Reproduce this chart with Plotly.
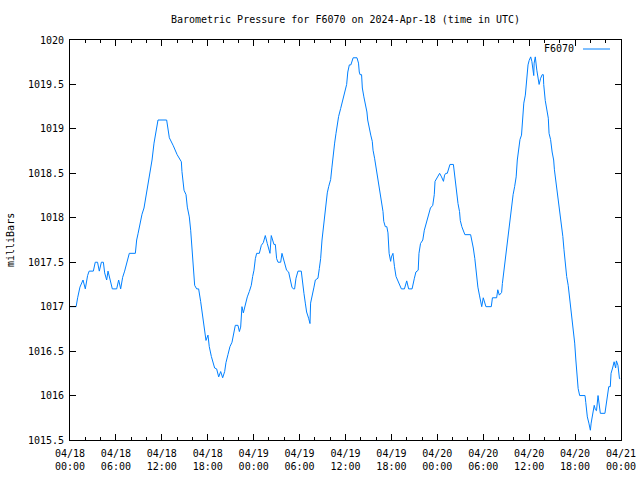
import plotly.graph_objects as go
import pandas as pd

title_text = "Barometric Pressure for F6070 on 2024-Apr-18 (time in UTC)"
series_name = "F6070"
y_label = "milliBars"
start_time = "2024-04-18 00:00"
end_time = "2024-04-21 00:00"

hours = [
    0.0, 0.8, 1.0, 1.3, 1.7, 2.0, 2.3, 2.5, 3.05, 3.3, 3.6, 3.83, 4.1, 4.36, 4.53, 4.79, 4.97, 5.23, 5.53, 6.1,
    6.36, 6.62, 6.88, 7.14, 7.49, 7.75, 8.54, 8.71, 8.89, 9.15, 9.41, 9.67, 9.93, 10.19, 10.45, 10.72, 10.98,
    11.24, 11.5, 12.63, 12.8, 12.98, 13.5, 14.0, 14.55, 14.63, 14.9, 15.16, 15.33, 15.59, 15.77, 15.94, 16.12,
    16.29, 16.55, 16.81, 17.07, 17.25, 17.42, 17.6, 17.77, 18.03, 18.2, 18.47, 18.64, 18.9, 19.16, 19.43, 19.69,
    19.95, 20.21, 20.38, 20.64, 20.9, 21.17, 21.43, 21.6, 21.95, 22.13, 22.3, 22.47, 22.65, 22.99, 23.17, 23.43,
    23.69, 23.87, 24.04, 24.22, 24.39, 24.74, 25.0, 25.26, 25.52, 25.78, 25.96, 26.13, 26.3, 26.48, 26.65, 26.83,
    27.0, 27.18, 27.53, 27.7, 27.87, 28.05, 28.3, 28.57, 28.75, 29.0, 29.18, 29.35, 29.53, 29.79, 30.22, 30.4,
    30.57, 30.75, 30.92, 31.18, 31.36, 31.44, 31.62, 31.88, 32.06, 32.4, 32.58, 32.75, 32.93, 33.1, 33.27, 33.45,
    33.62, 33.8, 34.06, 34.23, 34.41, 34.58, 34.76, 34.93, 35.1, 35.37, 35.63, 35.89, 36.15, 36.3, 36.5, 36.7,
    36.85, 37.0, 37.5, 37.7, 37.8, 37.9, 38.1, 38.2, 38.4, 38.6, 38.8, 38.9, 39.1, 39.3, 39.5, 39.6, 39.8, 40.0,
    40.2, 40.3, 40.5, 40.7, 40.9, 41.0, 41.2, 41.4, 41.55, 41.7, 41.9, 42.0, 42.2, 42.4, 42.6, 42.8, 43.0, 43.3,
    43.7, 44.0, 44.25, 44.7, 45.0, 45.2, 45.5, 45.6, 45.8, 46.1, 46.3, 46.5, 46.7, 46.9, 47.1, 47.4, 47.6, 47.7,
    48.0, 48.3, 48.55, 48.8, 48.95, 49.1, 49.3, 49.5, 49.65, 50.1, 50.3, 50.4, 50.6, 50.7, 50.9, 51.0, 51.2, 51.4,
    51.6, 52.35, 52.5, 52.7, 52.9, 53.0, 53.1, 53.3, 53.5, 53.65, 53.8, 54.0, 54.2, 54.35, 55.05, 55.2, 55.75,
    55.9, 56.1, 56.4, 56.5, 56.7, 56.9, 57.1, 57.2, 57.4, 57.6, 57.75, 57.9, 58.1, 58.3, 58.45, 58.6, 58.8, 59.0,
    59.1, 59.3, 59.5, 59.7, 59.85, 60.0, 60.2, 60.35, 60.5, 60.6, 60.65, 60.8, 61.0, 61.2, 61.3, 61.5, 61.7,
    61.85, 61.9, 62.1, 62.3, 62.5, 62.6, 62.8, 63.0, 63.2, 63.3, 63.5, 63.7, 63.9, 64.0, 64.2, 64.4, 64.55, 64.7,
    64.9, 65.1, 65.25, 65.4, 65.6, 65.8, 65.95, 66.1, 66.3, 66.4, 66.6, 67.3, 67.4, 67.6, 67.8, 68.0, 68.1, 68.3,
    68.5, 68.65, 68.8, 69.0, 69.15, 69.3, 69.9, 70.0, 70.2, 70.4, 70.6, 70.7, 70.9, 71.1, 71.3, 71.4, 71.6, 71.8,
    71.9,
]

pressure = [
    1017.0, 1017.0, 1017.1, 1017.22, 1017.3, 1017.2, 1017.35, 1017.4, 1017.4, 1017.5, 1017.5, 1017.4, 1017.5,
    1017.5, 1017.38, 1017.3, 1017.4, 1017.29, 1017.2, 1017.2, 1017.3, 1017.2, 1017.33, 1017.4, 1017.51, 1017.6,
    1017.6, 1017.75, 1017.82, 1017.94, 1018.04, 1018.11, 1018.24, 1018.35, 1018.52, 1018.65, 1018.84, 1018.97,
    1019.1, 1019.1, 1019.02, 1018.9, 1018.81, 1018.71, 1018.63, 1018.52, 1018.31, 1018.26, 1018.12, 1018.01,
    1017.86, 1017.64, 1017.36, 1017.24, 1017.2, 1017.2, 1017.06, 1016.94, 1016.83, 1016.74, 1016.62, 1016.68,
    1016.55, 1016.44, 1016.38, 1016.31, 1016.3, 1016.21, 1016.27, 1016.2, 1016.27, 1016.37, 1016.46, 1016.55,
    1016.6, 1016.7, 1016.79, 1016.79, 1016.72, 1016.77, 1017.0, 1016.93, 1017.06, 1017.11, 1017.17, 1017.24,
    1017.34, 1017.41, 1017.54, 1017.6, 1017.6, 1017.69, 1017.72, 1017.8, 1017.71, 1017.64, 1017.6, 1017.8,
    1017.75, 1017.7, 1017.7, 1017.54, 1017.5, 1017.5, 1017.6, 1017.54, 1017.47, 1017.41, 1017.39, 1017.32,
    1017.22, 1017.2, 1017.2, 1017.32, 1017.4, 1017.4, 1017.24, 1017.15, 1017.04, 1016.94, 1016.87, 1016.81,
    1017.04, 1017.1, 1017.22, 1017.3, 1017.32, 1017.43, 1017.54, 1017.75, 1017.9, 1018.05, 1018.16, 1018.28,
    1018.35, 1018.43, 1018.57, 1018.73, 1018.84, 1018.95, 1019.04, 1019.14, 1019.23, 1019.32, 1019.42, 1019.5,
    1019.64, 1019.72, 1019.72, 1019.77, 1019.8, 1019.8, 1019.74, 1019.64, 1019.61, 1019.61, 1019.46, 1019.36,
    1019.27, 1019.19, 1019.1, 1019.0, 1018.93, 1018.86, 1018.76, 1018.67, 1018.56, 1018.44, 1018.35, 1018.24,
    1018.16, 1018.07, 1017.96, 1017.9, 1017.9, 1017.83, 1017.6, 1017.51, 1017.56, 1017.6, 1017.45, 1017.34,
    1017.3, 1017.26, 1017.2, 1017.2, 1017.29, 1017.2, 1017.2, 1017.32, 1017.39, 1017.41, 1017.6, 1017.71,
    1017.75, 1017.86, 1017.92, 1018.0, 1018.05, 1018.11, 1018.14, 1018.26, 1018.41, 1018.46, 1018.5, 1018.46,
    1018.41, 1018.48, 1018.5, 1018.5, 1018.56, 1018.6, 1018.6, 1018.46, 1018.35, 1018.26, 1018.16, 1018.07,
    1017.97, 1017.9, 1017.84, 1017.81, 1017.81, 1017.75, 1017.66, 1017.54, 1017.45, 1017.34, 1017.22, 1017.13,
    1017.04, 1017.0, 1017.1, 1017.04, 1017.0, 1017.0, 1017.1, 1017.1, 1017.19, 1017.13, 1017.16, 1017.26,
    1017.41, 1017.56, 1017.66, 1017.75, 1017.9, 1018.05, 1018.14, 1018.26, 1018.35, 1018.46, 1018.65, 1018.76,
    1018.88, 1018.93, 1019.06, 1019.29, 1019.38, 1019.61, 1019.72, 1019.77, 1019.81, 1019.76, 1019.66, 1019.6,
    1019.74, 1019.81, 1019.66, 1019.57, 1019.5, 1019.57, 1019.61, 1019.61, 1019.5, 1019.32, 1019.23, 1019.12,
    1018.95, 1018.88, 1018.74, 1018.65, 1018.54, 1018.41, 1018.28, 1018.16, 1018.05, 1017.94, 1017.79, 1017.64,
    1017.49, 1017.34, 1017.24, 1017.13, 1017.04, 1016.89, 1016.72, 1016.59, 1016.4, 1016.21, 1016.08, 1016.0,
    1016.0, 1015.92, 1015.76, 1015.69, 1015.61, 1015.69, 1015.8, 1015.89, 1015.84, 1015.83, 1016.0, 1015.9,
    1015.8, 1015.8, 1015.87, 1015.95, 1016.1, 1016.1, 1016.25, 1016.31, 1016.38, 1016.31, 1016.39, 1016.34,
    1016.19, 1016.19,
]

y_min, y_max, y_step = 1015.5, 1020.0, 0.5

times = pd.Timestamp(start_time) + pd.to_timedelta(hours, unit="h")

FONT = "DejaVu Sans Mono"
FS = 10
LINE_COLOR = "#0080ff"

fig = go.Figure()
fig.add_trace(go.Scatter(x=times, y=pressure, mode="lines", name=series_name,
                         line=dict(color=LINE_COLOR, width=1), showlegend=False,
                         hoverinfo="skip"))

W, H = 640, 480
PL, PR, PT, PB = 70, 621, 40, 440  # plot area in pixels
pw, ph = PR - PL, PB - PT

def px_x(p):
    return (p - PL) / pw

def px_y(p):
    return (PB - p) / ph

fig.update_layout(
    width=W, height=H,
    margin=dict(l=PL, r=W - PR, t=PT, b=H - PB, autoexpand=False),
    paper_bgcolor="white", plot_bgcolor="white",
    font=dict(family=FONT, size=FS, color="black"),
    hovermode=False,
    title=dict(text=title_text, x=px_x(345.5), xref="paper", xanchor="center",
               yref="container", y=1 - 19 / H, yanchor="middle", automargin=False,
               font=dict(family=FONT, size=FS)),
    xaxis=dict(
        type="date",
        range=[start_time, end_time],
        dtick=6 * 3600 * 1000,
        tick0=start_time,
        tickformat="%m/%d<br>%H:%M",
        ticks="inside", ticklen=6, tickcolor="black", tickwidth=1,
        ticklabelstandoff=4,
        minor=dict(dtick=2 * 3600 * 1000, ticks="inside", ticklen=3, tickcolor="black"),
        showline=True, linecolor="black", linewidth=1, mirror="ticks",
        showgrid=False, zeroline=False, automargin=False,
        tickfont=dict(family=FONT, size=FS),
    ),
    yaxis=dict(
        range=[y_min, y_max],
        dtick=y_step,
        tick0=y_min,
        tickformat=".1~f",
        ticks="inside", ticklen=6, tickcolor="black", tickwidth=1,
        ticklabelstandoff=3,
        showline=True, linecolor="black", linewidth=1, mirror="ticks",
        showgrid=False, zeroline=False, automargin=False,
        tickfont=dict(family=FONT, size=FS),
    ),
    annotations=[
        dict(text=y_label, xref="paper", yref="paper", x=px_x(10), y=0.5,
             textangle=-90, showarrow=False, xanchor="center", yanchor="middle",
             font=dict(family=FONT, size=FS)),
        dict(text=series_name, xref="paper", yref="paper", x=px_x(576), y=px_y(49),
             showarrow=False, xanchor="right", yanchor="middle",
             font=dict(family=FONT, size=FS)),
    ],
    shapes=[
        dict(type="line", xref="paper", yref="paper", x0=px_x(583), x1=px_x(610),
             y0=px_y(49), y1=px_y(49), line=dict(color=LINE_COLOR, width=1)),
    ],
)

fig.write_html("out.html",
               config={"displayModeBar": False, "staticPlot": True},
               post_script="document.body.style.margin='0px';document.body.style.overflow='hidden';")
